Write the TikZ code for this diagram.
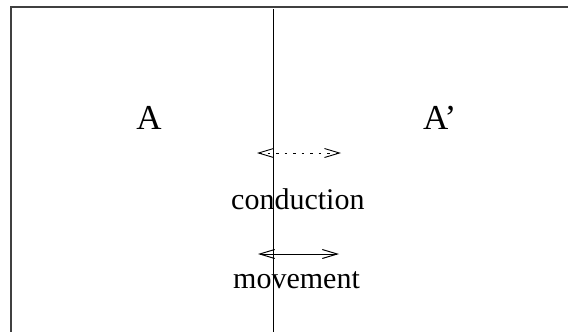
\documentclass[tikz,border=0pt]{standalone}
\usepackage{fontspec}
\setmainfont{Liberation Serif}
\usetikzlibrary{arrows.meta}
\begin{document}
\begin{tikzpicture}[x=1pt,y=-1pt,
  frame/.style={draw=black!75,line width=1.4pt},
  divider/.style={draw=black,line width=1pt},
  biglabel/.style={inner sep=0pt,anchor=base,font=\fontsize{35}{40}\selectfont},
  smalllabel/.style={inner sep=0pt,anchor=base west,font=\fontsize{30}{34}\selectfont},
  barbtip/.style={Straight Barb[length=15pt,width=9pt,line width=1pt]},
  barb/.style={line width=1pt,{Straight Barb[length=15pt,width=9pt]}-{Straight Barb[length=15pt,width=9pt]}},
  dotbarb/.style={barb,line width=0.9pt,dash pattern=on 2.5pt off 6pt}]
\useasboundingbox (0,0) rectangle (568,332);
\coordinate (bl) at (11,332);
\coordinate (tl) at (11,7);
\coordinate (tr) at (568,7);
\coordinate (vt) at (273.5,9);
\coordinate (vb) at (273.5,332);
\draw[frame] (bl) -- (tl) -- (tr);
\draw[divider] (vt) -- (vb);
\node[biglabel] (A) at (149,129) {A};
\node[biglabel,anchor=base west] (Ap) at (423,129) {A’};
\node[smalllabel] (cond) at (231,209) {conduction};
\node[smalllabel] (mov) at (233,288) {movement};
\coordinate (c1) at (257,153);
\coordinate (c2) at (341,153);
\coordinate (m1) at (258,254);
\coordinate (m2) at (339,254);
\draw[dotbarb] (c1) -- (c2);
\draw[barb] (m1) -- (m2);
\end{tikzpicture}
\end{document}
